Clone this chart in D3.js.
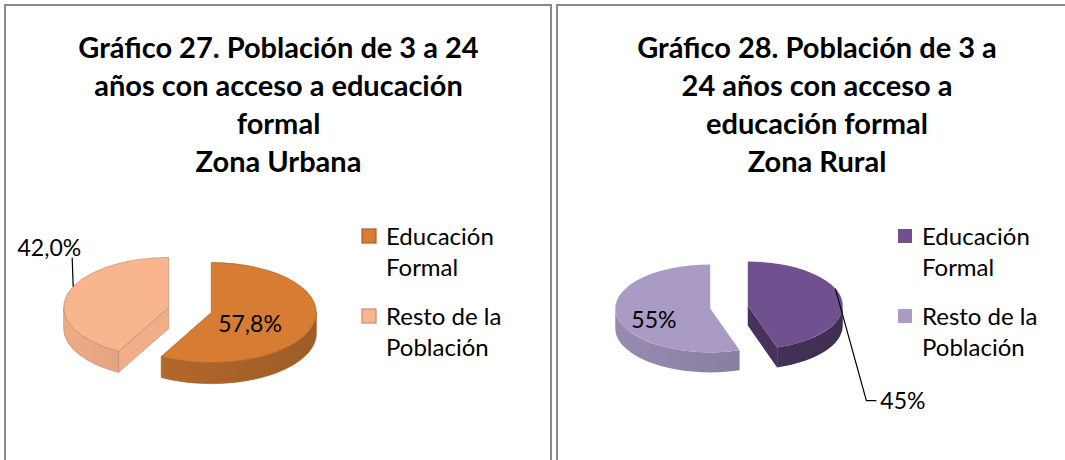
<!DOCTYPE html>
<html lang="es">
<head>
<meta charset="utf-8">
<title>Población de 3 a 24 años con acceso a educación formal</title>
<script src="https://cdn.jsdelivr.net/npm/d3@7"></script>
<style>
  body { margin: 0; background: #fff; }
  text { font-family: Lato, "Open Sans", sans-serif; fill: #000; }
</style>
</head>
<body>
<svg id="chart" width="1065" height="460"></svg>
<script>

// data
var categories = ["Educación Formal", "Resto de la Población"];
var legendLines = [["Educación", "Formal"], ["Resto de la", "Población"]];

var urbanValues = [57.8, 42.0];
var urbanLabels = ["57,8%", "42,0%"];
var urbanTitle = ["Gráfico 27. Población de 3 a 24", "años con acceso a educación", "formal", "Zona Urbana"];

var ruralValues = [45, 55];
var ruralLabels = ["45%", "55%"];
var ruralTitle = ["Gráfico 28. Población de 3 a", "24 años con acceso a", "educación formal", "Zona Rural"];

var urbanColors = ["#d67d33", "#f9b58e"];
var ruralColors = ["#70508f", "#a99bc4"];

var svg = d3.select("#chart");

// panels (layout only)
var panels = [
  { x: 5, w: 546, titleX: 278.5, cx: 190, cy: 310, rx: 105, ry: 50, depth: 21, explode: 22,
    values: urbanValues, labels: urbanLabels, title: urbanTitle, colors: urbanColors,
    sideDark: [0.6, 0.35], stroke: true, legendX: 362, insideR: 0.38,
    inside: [true, false],
    outLabel: { shift: 0.18, dx: -1, dy: -29, hx: 0, tx: 9, anchor: "end", ty: -6 } },
  { x: 557, w: 520, titleX: 817, cx: 729, cy: 307, rx: 95, ry: 44, depth: 20, explode: 19,
    values: ruralValues, labels: ruralLabels, title: ruralTitle, colors: ruralColors,
    sideDark: [1.3, 0.5], stroke: false, legendX: 898, insideR: 0.6,
    inside: [false, true],
    outLabel: { shift: -0.24, dx: 31, dy: 112, hx: 10, tx: 4, anchor: "start", ty: 4 } }
];

// panel frames
svg.selectAll("rect.frame")
  .data(panels)
  .enter()
  .append("rect")
  .attr("class", "frame")
  .attr("x", function(d) { return d.x; })
  .attr("y", 5)
  .attr("width", function(d) { return d.w; })
  .attr("height", 470)
  .attr("fill", "none")
  .attr("stroke", "#8a8a8a")
  .attr("stroke-width", 2);

var pie = d3.pie().sort(null).startAngle(0).endAngle(2 * Math.PI);

panels.forEach(function(p) {

  var g = svg.append("g");
  var color = d3.scaleOrdinal().domain(categories).range(p.colors);

  // title
  g.append("text")
    .attr("x", p.titleX)
    .attr("y", 58)
    .attr("text-anchor", "middle")
    .style("font-size", "29px")
    .style("font-weight", "bold")
    .selectAll("tspan")
    .data(p.title)
    .enter()
    .append("tspan")
    .attr("x", p.titleX)
    .attr("dy", function(d, i) { return i ? 38 : 0; })
    .text(function(d) { return d; });

  var arcs = pie(p.values);

  // point on the tilted ellipse, angle measured clockwise from 12 o'clock
  function pt(c, a, r) {
    return [c.x + p.rx * r * Math.sin(a), c.y - p.ry * r * Math.cos(a)];
  }

  arcs.forEach(function(a, i) {
    var mid = (a.startAngle + a.endAngle) / 2;
    var c = { x: p.cx + p.explode * Math.sin(mid), y: p.cy - p.explode * Math.cos(mid) * p.ry / p.rx };
    var top = color(categories[i]);
    var side = d3.color(top).darker(p.sideDark[i]);
    var edge = p.stroke ? d3.color(top).darker(0.7) : "none";
    var s = g.append("g").attr("class", "slice");

    function radialFace(ang) {
      var r = pt(c, ang, 1);
      return "M" + c.x + "," + c.y + "L" + r[0] + "," + r[1] +
             "L" + r[0] + "," + (r[1] + p.depth) + "L" + c.x + "," + (c.y + p.depth) + "Z";
    }

    // radial faces that turn toward the viewer
    if (a.startAngle > Math.PI && a.startAngle < 2 * Math.PI) {
      s.append("path").attr("d", radialFace(a.startAngle))
        .attr("fill", d3.color(side).brighter(0.25)).attr("stroke", edge).attr("stroke-width", 0.7);
    }
    if (a.endAngle > 0 && a.endAngle < Math.PI) {
      s.append("path").attr("d", radialFace(a.endAngle))
        .attr("fill", side).attr("stroke", edge).attr("stroke-width", 0.7);
    }

    // outer wall, front half only
    var w0 = Math.max(a.startAngle, Math.PI / 2), w1 = Math.min(a.endAngle, 3 * Math.PI / 2);
    if (w1 > w0) {
      var p0 = pt(c, w0, 1), p1 = pt(c, w1, 1);
      var gid = "wall-" + p.x + "-" + i;
      var grad = svg.append("defs").append("linearGradient").attr("id", gid)
        .attr("gradientUnits", "userSpaceOnUse")
        .attr("x1", c.x - p.rx).attr("x2", c.x + p.rx).attr("y1", 0).attr("y2", 0);
      grad.append("stop").attr("offset", "0%").attr("stop-color", d3.color(side).brighter(0.2));
      grad.append("stop").attr("offset", "100%").attr("stop-color", d3.color(side).darker(0.25));
      s.append("path")
        .attr("d", "M" + p0[0] + "," + p0[1] +
                   "A" + p.rx + "," + p.ry + " 0 0 1 " + p1[0] + "," + p1[1] +
                   "L" + p1[0] + "," + (p1[1] + p.depth) +
                   "A" + p.rx + "," + p.ry + " 0 0 0 " + p0[0] + "," + (p0[1] + p.depth) + "Z")
        .attr("fill", "url(#" + gid + ")")
        .attr("stroke", edge).attr("stroke-width", 0.7);
    }

    // top face
    var t0 = pt(c, a.startAngle, 1), t1 = pt(c, a.endAngle, 1);
    var large = (a.endAngle - a.startAngle) > Math.PI ? 1 : 0;
    s.append("path")
      .attr("d", "M" + c.x + "," + c.y + "L" + t0[0] + "," + t0[1] +
                 "A" + p.rx + "," + p.ry + " 0 " + large + " 1 " + t1[0] + "," + t1[1] + "Z")
      .attr("fill", top)
      .attr("stroke", edge).attr("stroke-width", 0.7);

    // data labels
    if (p.inside[i]) {
      var lp = pt(c, mid, p.insideR);
      g.append("text")
        .attr("x", lp[0]).attr("y", lp[1] + 15)
        .attr("text-anchor", "middle")
        .style("font-size", "23px")
        .text(p.labels[i]);
    } else {
      var o = p.outLabel;
      var rim = pt(c, mid + o.shift, 1);
      var ex = rim[0] + o.dx, ey = rim[1] + o.dy;
      g.append("path")
        .attr("d", "M" + rim[0] + "," + rim[1] + "L" + ex + "," + ey + "L" + (ex + o.hx) + "," + ey)
        .attr("fill", "none").attr("stroke", "#000").attr("stroke-width", 1.2);
      g.append("text")
        .attr("x", ex + o.hx + o.tx).attr("y", ey + o.ty + 4)
        .attr("text-anchor", o.anchor)
        .style("font-size", "23px")
        .text(p.labels[i]);
    }
  });

  // legend
  var leg = g.selectAll("g.legend")
    .data(categories)
    .enter()
    .append("g")
    .attr("class", "legend")
    .attr("transform", function(d, i) { return "translate(" + p.legendX + "," + (229 + i * 80) + ")"; });

  leg.append("rect")
    .attr("width", 14).attr("height", 14)
    .attr("fill", function(d) { return color(d); })
    .attr("stroke", function(d) { return p.stroke ? d3.color(color(d)).darker(0.7) : "none"; })
    .attr("stroke-width", 1.2);

  leg.append("text")
    .attr("x", 24)
    .attr("y", 16)
    .style("font-size", "24px")
    .selectAll("tspan")
    .data(function(d, i) { return legendLines[i]; })
    .enter()
    .append("tspan")
    .attr("x", 24)
    .attr("dy", function(d, i) { return i ? 31 : 0; })
    .text(function(d) { return d; });
});

</script>
</body>
</html>
